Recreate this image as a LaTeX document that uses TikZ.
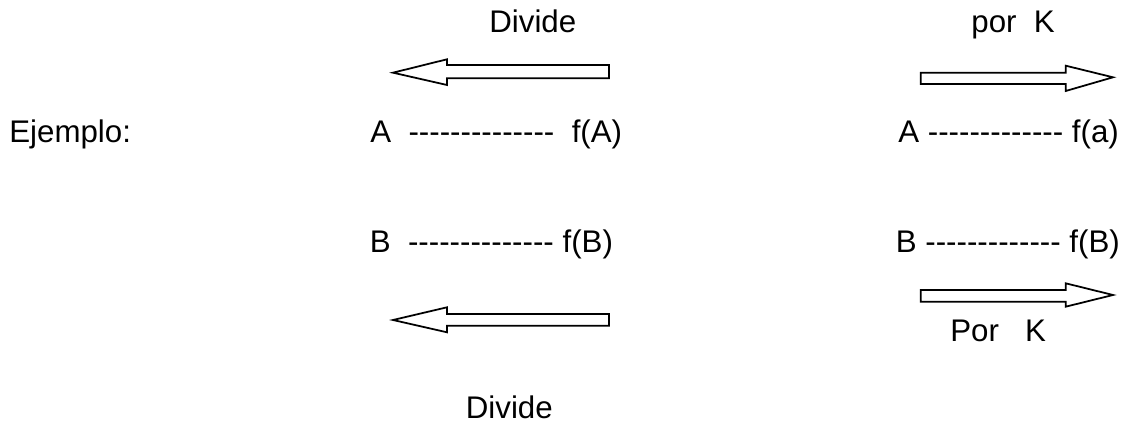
\documentclass[tikz,border=0pt]{standalone}
\usepackage{fontspec}
\setmainfont{Liberation Sans}
\newcommand{\dashrun}[1]{\foreach \i in {1,...,#1}{-{}}}

\begin{document}
\begin{tikzpicture}[
    x=0.02cm, y=-0.02cm,
    txt/.style={anchor=base west, inner sep=0pt, font=\fontsize{17.8}{21}\selectfont},
    hollow/.style={draw=black, fill=white, line width=1pt, line join=miter}
]
    \useasboundingbox (0,0) rectangle (1131,428);

    \node[txt] (ejemplo) at (9,143) {Ejemplo:};
    \node[txt] (divtop) at (489,33) {Divide};
    \node[txt] (portop) at (971,33) {por\ \ K};
    \node[txt] (fa) at (370,143) {A\ \ \dashrun{14}\ \ f(A)};
    \node[txt] (fasmall) at (898,143) {A \dashrun{13} f(a)};
    \node[txt] (fb) at (369.5,253) {B\ \ \dashrun{14}\ f(B)};
    \node[txt] (fbk) at (895.5,253) {B \dashrun{13} f(B)};
    \node[txt] (porbot) at (950,341) {Por\ \ \ K};
    \node[txt] (divbot) at (465.5,418) {Divide};

    % hollow block arrows
    \draw[hollow] (393,72.7) -- (447,59.3) -- (447,65) -- (609,65)
        -- (609,78.3) -- (447,78.3) -- (447,85) -- cycle;
    \draw[hollow] (1113,77.3) -- (1065.7,65.7) -- (1065.7,72.7) -- (920.7,72.7)
        -- (920.7,84) -- (1065.7,84) -- (1065.7,91) -- cycle;
    \draw[hollow] (393,320) -- (447,307.3) -- (447,314) -- (609,314)
        -- (609,325.7) -- (447,325.7) -- (447,332.3) -- cycle;
    \draw[hollow] (1113,295) -- (1065.7,283.3) -- (1065.7,290) -- (920.7,290)
        -- (920.7,301.7) -- (1065.7,301.7) -- (1065.7,306.7) -- cycle;
\end{tikzpicture}
\end{document}
